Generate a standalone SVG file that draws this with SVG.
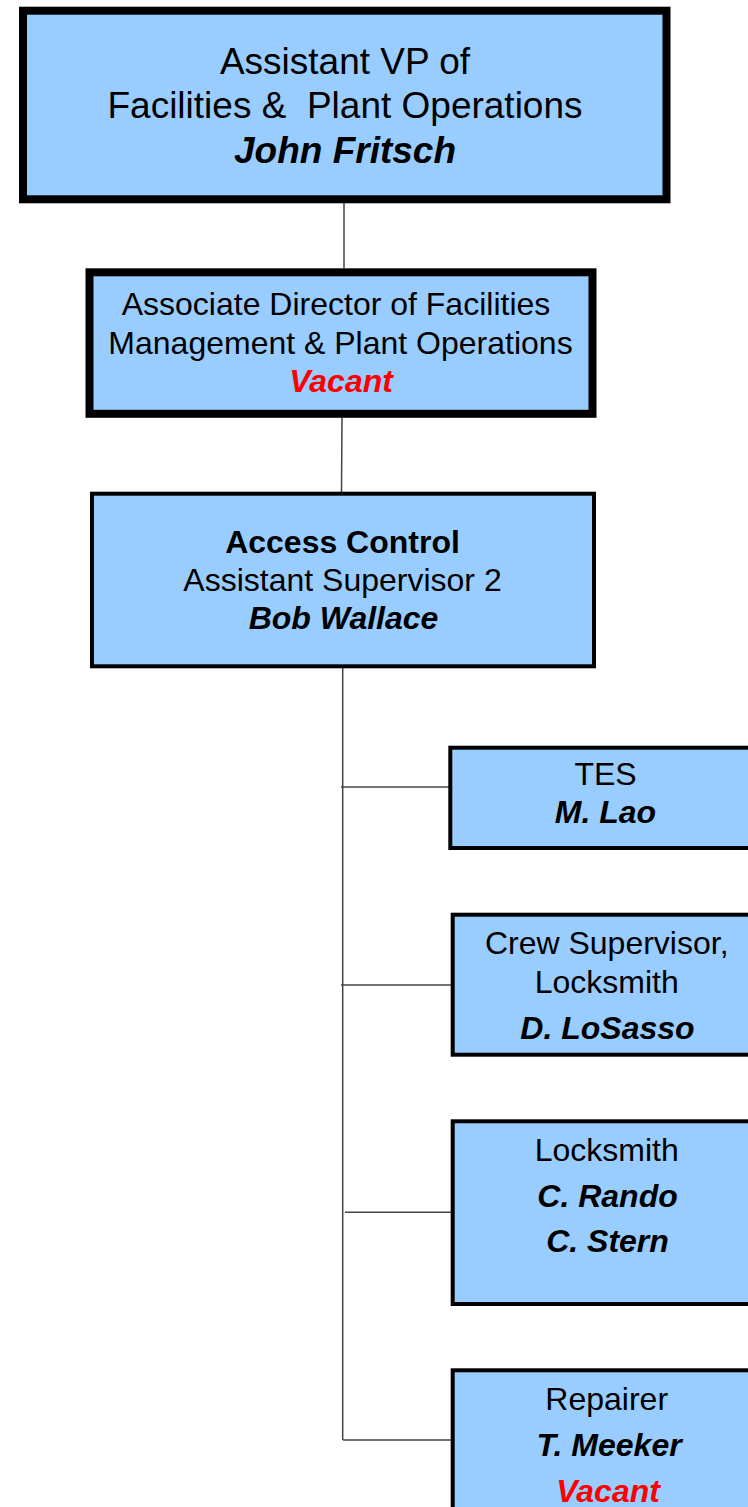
<svg xmlns="http://www.w3.org/2000/svg" width="748" height="1507" viewBox="0 0 748 1507">
<style>
.box{fill:#99CCFF;stroke:#000;}
.t{font-family:"Liberation Sans",Arial,sans-serif;font-size:32px;fill:#000;text-anchor:middle;white-space:pre;}
.b{font-weight:bold;}
.bi{font-weight:bold;font-style:italic;}
.red{fill:#FF0000;}
.con{stroke:#444;stroke-width:1.5;fill:none;}
</style>
<rect width="748" height="1507" fill="#fff"/>
<g id="connectors">
<line class="con" x1="344" y1="203" x2="344" y2="268"/>
<line class="con" x1="342" y1="418" x2="341.5" y2="492"/>
<line class="con" x1="342.7" y1="668" x2="342.7" y2="1440"/>
<line class="con" x1="341" y1="787" x2="449" y2="787"/>
<line class="con" x1="341" y1="985" x2="451" y2="985"/>
<line class="con" x1="345" y1="1212.3" x2="451" y2="1212.3"/>
<line class="con" x1="343" y1="1440" x2="451" y2="1440"/>
</g>
<g id="avp">
<rect class="box" x="23" y="10.7" width="643.5" height="188.6" stroke-width="8"/>
<text class="t" x="345" y="73.5" style="font-size:37px">Assistant VP of</text>
<text class="t" x="345" y="118.3" style="font-size:37px">Facilities &amp;  Plant Operations</text>
<text class="t bi" x="345" y="163.3" style="font-size:37px">John Fritsch</text>
</g>
<g id="assoc-director">
<rect class="box" x="89.5" y="272.3" width="503" height="141.5" stroke-width="8"/>
<text class="t" x="336" y="315">Associate Director of Facilities</text>
<text class="t" x="340.5" y="354">Management &amp; Plant Operations</text>
<text class="t bi red" x="341" y="392">Vacant</text>
</g>
<g id="access-control">
<rect class="box" x="92" y="493.7" width="502" height="172.6" stroke-width="4"/>
<text class="t b" x="342.5" y="553">Access Control</text>
<text class="t" x="342.5" y="591">Assistant Supervisor 2</text>
<text class="t bi" x="343.5" y="629">Bob Wallace</text>
</g>
<g id="tes">
<rect class="box" x="450.3" y="747.7" width="310" height="100.3" stroke-width="4"/>
<text class="t" x="605.5" y="785">TES</text>
<text class="t bi" x="605.5" y="823.3">M. Lao</text>
</g>
<g id="crew-supervisor">
<rect class="box" x="452.7" y="914.7" width="310" height="140" stroke-width="4"/>
<text class="t" x="606.7" y="954">Crew Supervisor,</text>
<text class="t" x="606.7" y="993.3">Locksmith</text>
<text class="t bi" x="607.5" y="1039">D. LoSasso</text>
</g>
<g id="locksmith">
<rect class="box" x="452.7" y="1121.3" width="310" height="182.7" stroke-width="4"/>
<text class="t" x="606.7" y="1161">Locksmith</text>
<text class="t bi" x="607.5" y="1206.7">C. Rando</text>
<text class="t bi" x="607.5" y="1252.3">C. Stern</text>
</g>
<g id="repairer">
<rect class="box" x="452.7" y="1370.3" width="310" height="160" stroke-width="4"/>
<text class="t" x="606.7" y="1410">Repairer</text>
<text class="t bi" x="609" y="1456">T. Meeker</text>
<text class="t bi red" x="608" y="1501.7">Vacant</text>
</g>
</svg>
